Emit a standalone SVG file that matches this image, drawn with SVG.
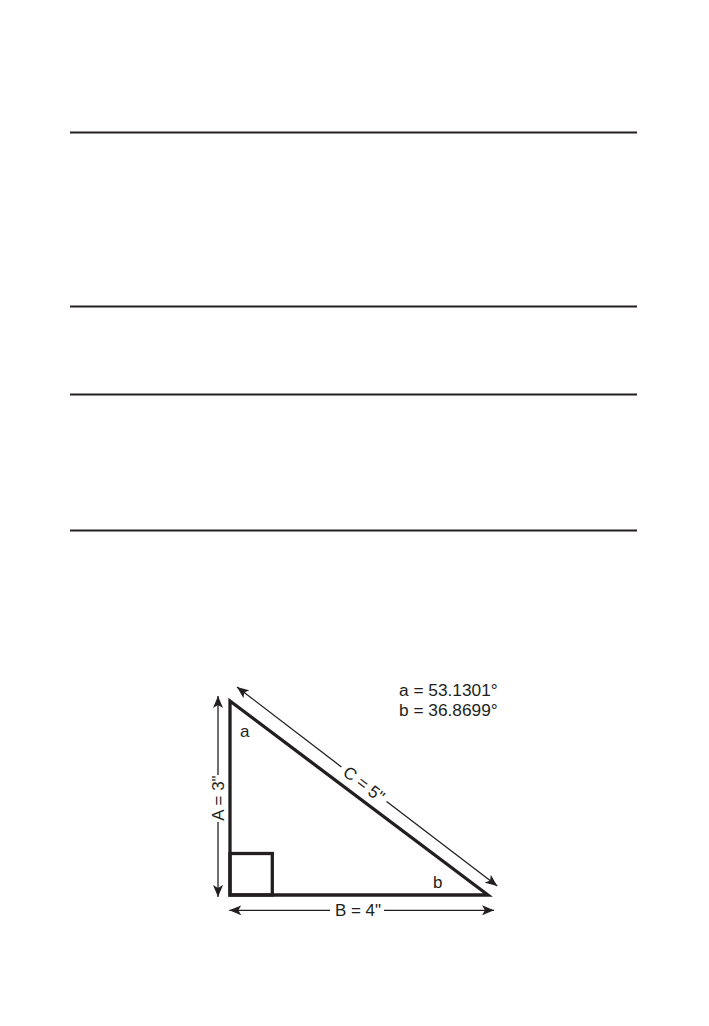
<svg xmlns="http://www.w3.org/2000/svg" width="709" height="1026" viewBox="0 0 709 1026">
<style>
.rule{stroke:#231f20;stroke-width:1.8}
.tri{fill:none;stroke:#231f20;stroke-width:3.3;stroke-linejoin:miter;stroke-miterlimit:10}
.dim{stroke:#231f20;stroke-width:1.3;fill:none}
.lbl{font-family:"Liberation Sans",Arial,sans-serif;font-size:17px;fill:#231f20}
.ang{font-size:17.3px}
</style>
<defs>
<marker id="ah" viewBox="0 0 12 10" refX="12" refY="5" markerWidth="12" markerHeight="10" markerUnits="userSpaceOnUse" orient="auto-start-reverse">
<path d="M0,0 L12,5 L0,10 L3,5 Z" fill="#231f20"/>
</marker>
</defs>
<rect width="709" height="1026" fill="#fff"/>
<g id="rules">
<line class="rule" x1="70" y1="132.5" x2="637" y2="132.5"/>
<line class="rule" x1="70" y1="306.5" x2="637" y2="306.5"/>
<line class="rule" x1="70" y1="394.5" x2="637" y2="394.5"/>
<line class="rule" x1="70" y1="530.5" x2="637" y2="530.5"/>
</g>
<g id="triangle">
<polygon class="tri" points="230,701 230,895 488,895"/>
<rect class="tri" x="230" y="853.5" width="42.3" height="41.5" stroke-width="2.8"/>
</g>
<g id="connectors">
<line class="dim" x1="218" y1="696" x2="218" y2="775" marker-start="url(#ah)"/>
<line class="dim" x1="218" y1="822" x2="218" y2="897" marker-end="url(#ah)"/>
<line class="dim" x1="229.3" y1="910.3" x2="330" y2="910.3" marker-start="url(#ah)"/>
<line class="dim" x1="384" y1="910.3" x2="494" y2="910.3" marker-end="url(#ah)"/>
<line class="dim" x1="237" y1="687" x2="341.4" y2="766.9" marker-start="url(#ah)"/>
<line class="dim" x1="386.6" y1="801.5" x2="497.3" y2="886" marker-end="url(#ah)"/>
</g>
<g id="labels">
<text class="lbl" transform="translate(218,798) rotate(-90)" y="6" text-anchor="middle">A = 3"</text>
<text class="lbl" x="358" y="916" text-anchor="middle">B = 4"</text>
<text class="lbl" transform="translate(364,784) rotate(37.4)" y="6" text-anchor="middle">C = 5"</text>
<text class="lbl" x="240" y="737">a</text>
<text class="lbl" x="433" y="888">b</text>
<text class="lbl ang" x="399" y="696">a = 53.1301°</text>
<text class="lbl ang" x="399" y="716">b = 36.8699°</text>
</g>
</svg>
